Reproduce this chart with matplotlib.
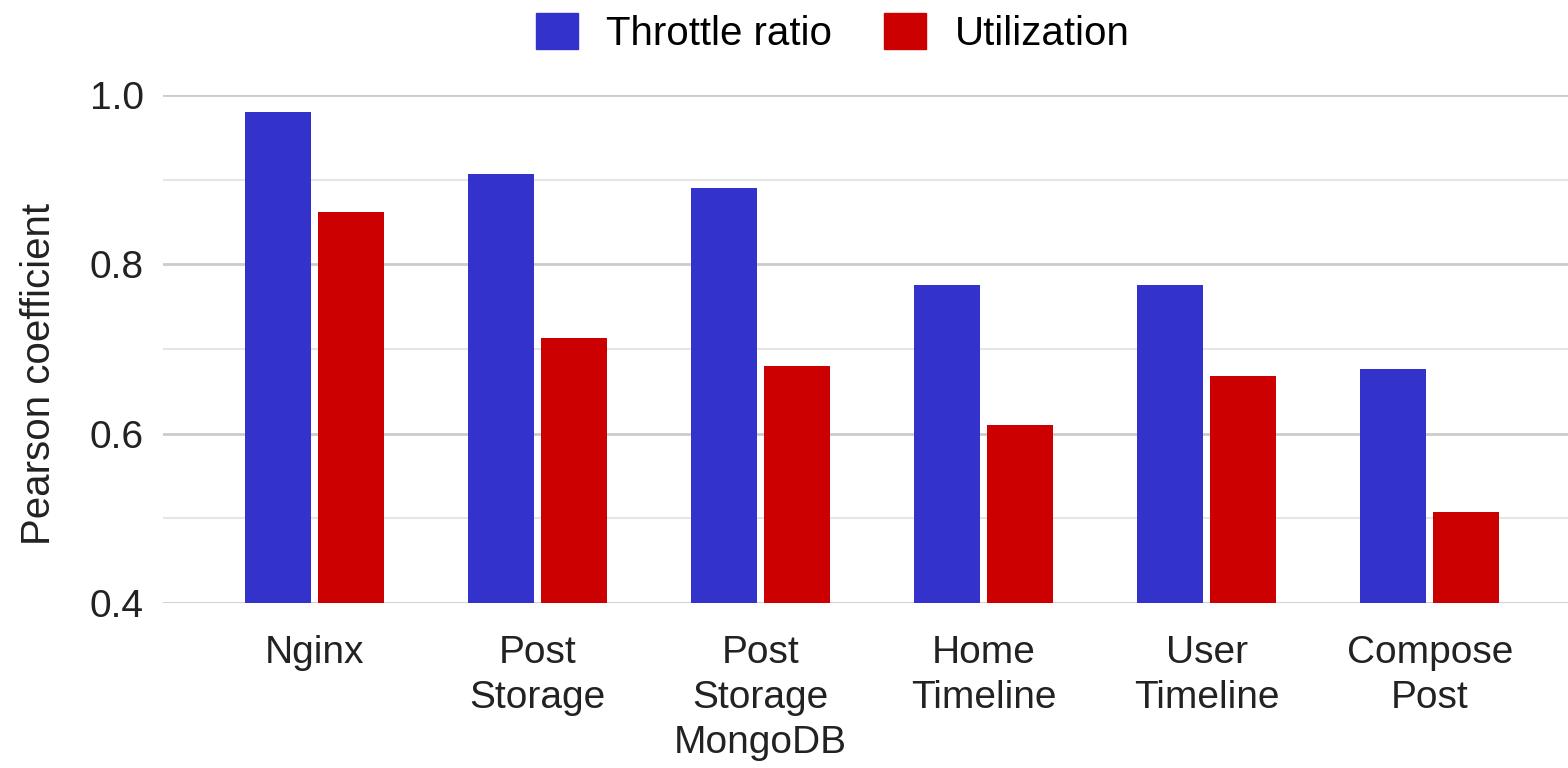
import matplotlib.pyplot as plt
import numpy as np
from matplotlib.patches import Patch

plt.rcParams['font.family'] = ['Liberation Sans', 'DejaVu Sans']

# data
categories = ["Nginx", "Post\nStorage", "Post\nStorage\nMongoDB",
              "Home\nTimeline", "User\nTimeline", "Compose\nPost"]
throttle_ratio = [0.980, 0.907, 0.890, 0.776, 0.776, 0.676]
utilization = [0.862, 0.713, 0.680, 0.610, 0.668, 0.508]
series_names = ["Throttle ratio", "Utilization"]
colors = ["#3333cc", "#cc0000"]

fig = plt.figure(figsize=(15.68, 7.68), dpi=100)
ax = fig.add_axes([0.104, 0.215, 0.896, 0.661])

x = np.arange(len(categories))
w = 0.296
off = 0.164
ax.bar(x - off, throttle_ratio, w, color=colors[0], zorder=3)
ax.bar(x + off, utilization, w, color=colors[1], zorder=3)

ax.set_xlim(-0.68, 5.62)
ax.set_ylim(0.4, 1.0)
ax.set_yticks([0.4, 0.6, 0.8, 1.0])
ax.set_yticklabels(["0.4", "0.6", "0.8", "1.0"])
ax.set_yticks([0.5, 0.7, 0.9], minor=True)
ax.grid(axis='y', which='major', color='#cccccc', lw=2, zorder=0)
ax.grid(axis='y', which='minor', color='#e6e6e6', lw=1.5, zorder=0)
ax.tick_params(axis='y', which='both', length=0, labelsize=28, pad=14, colors='#222222')
ax.tick_params(axis='x', length=0, labelsize=28, pad=23, colors='#222222')
ax.set_xticks(x)
ax.set_xticklabels(categories, linespacing=1.32)
for s in ax.spines.values():
    s.set_visible(False)
ax.set_ylabel("Pearson coefficient", fontsize=29, color='#222222')
ax.yaxis.set_label_coords(-0.075, 0.45)

handles = [Patch(color=c) for c in colors]
fig.legend(handles, series_names, loc='center', bbox_to_anchor=(0.531, 0.957),
           ncol=2, frameon=False, fontsize=29, handlelength=1.04, handleheight=1.0,
           columnspacing=1.3, handletextpad=0.7)

fig.savefig("out.png", dpi=100)
